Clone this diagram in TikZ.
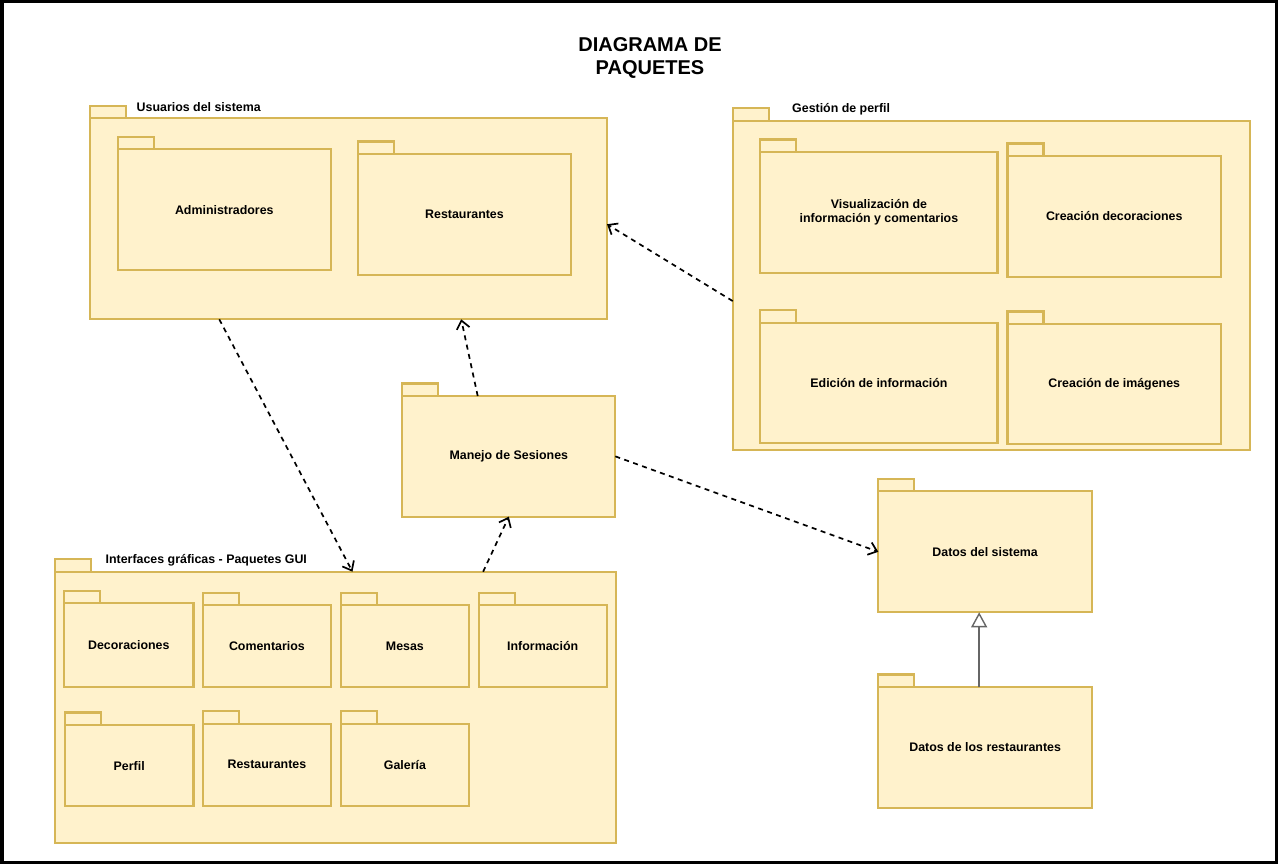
\documentclass[tikz,border=0pt]{standalone}
\usepackage{fontspec}
\setmainfont{Liberation Sans}
\usetikzlibrary{arrows.meta,calc}
\definecolor{pkgfill}{HTML}{FFF2CC}
\definecolor{pkgdraw}{HTML}{D6B656}
\definecolor{genline}{HTML}{666666}
\tikzset{
  pkgst/.style={draw=pkgdraw, fill=pkgfill, line width=2.1pt, inner sep=2pt, outer sep=0pt,
    align=center, font=\fontsize{12.4}{13.5}\selectfont\bfseries},
  tabst/.style={draw=pkgdraw, fill=pkgfill, line width=2.1pt},
  lblst/.style={anchor=west, inner sep=0pt, font=\fontsize{12.4}{13.5}\selectfont\bfseries},
  dep/.style={draw=black, line width=1.7pt, dash pattern=on 5pt off 4.5pt,
    -{Straight Barb[length=8pt,width=13pt]}},
  gen/.style={draw=genline, line width=1.4pt, -{Triangle[open,length=15pt,width=16pt]}},
  framest/.style={draw=black, line width=3.5pt},
  titlest/.style={align=center, inner sep=0pt, font=\fontsize{20}{23}\selectfont\bfseries}
}
% name, x1, y1, x2, y2, text
\newcommand\pkgbox[6]{%
  \node[pkgst, minimum width={(#4-#2)*1pt}, minimum height={(#5-#3)*1pt}] (#1)
    at ({(#2+#4)/2},{(#3+#5)/2}) {#6};
  \draw[tabst] (#1.north west) rectangle ++(36,-12.5);
}
\begin{document}
\begin{tikzpicture}[x=1pt,y=-1pt]
\useasboundingbox (0,0) rectangle (1280,866);
\draw[framest] (1.75,1.75) rectangle (1276.5,862.5);

\node[titlest] (title) at (650,58) {DIAGRAMA DE\\PAQUETES};

% containers
\pkgbox{usr}{90}{118.3}{607}{319.3}{}
\node[lblst] (usrl) at (136.5,107) {Usuarios del sistema};
\pkgbox{gp}{732.7}{120.7}{1249.6}{449.8}{}
\node[lblst] (gpl) at (792,109) {Gestión de perfil};
\pkgbox{gui}{55.3}{571.7}{616}{843.3}{}
\node[lblst] (guil) at (105.5,560) {Interfaces gráficas - Paquetes GUI};

% inner packages
\pkgbox{adm}{117.6}{149.3}{331}{270.3}{Administradores}
\pkgbox{resta}{357.6}{154}{571.4}{275}{Restaurantes}

\pkgbox{vis}{760.4}{152}{997.5}{272.7}{Visualización de\\información y comentarios}
\pkgbox{cdec}{1007.5}{156}{1221}{277}{Creación decoraciones}
\pkgbox{edi}{760.4}{322.7}{997.5}{442.7}{Edición de información}
\pkgbox{cimg}{1007.5}{324}{1221}{444.3}{Creación de imágenes}

\pkgbox{ses}{402.3}{396}{615.3}{516.7}{Manejo de Sesiones}
\pkgbox{dsys}{878.3}{491.3}{1092}{612.3}{Datos del sistema}
\pkgbox{dres}{878.3}{687}{1092}{807.7}{Datos de los restaurantes}

\pkgbox{dec}{64.1}{603.3}{193.5}{687}{Decoraciones}
\pkgbox{com}{202.6}{605.3}{331.2}{687}{Comentarios}
\pkgbox{mes}{340.8}{605.3}{469}{687}{Mesas}
\pkgbox{inf}{478.6}{605.3}{606.8}{687}{Información}
\pkgbox{per}{64.9}{725}{193.5}{806.3}{Perfil}
\pkgbox{restb}{202.6}{723.7}{331.2}{805.7}{Restaurantes}
\pkgbox{gal}{340.8}{723.7}{469}{805.7}{Galería}

% connectors
\draw[dep] ($(usr.south west)!0.25!(usr.south east)$) -- ($(gui.north west)!0.53!(gui.north east)$);
\draw[dep] ($(gui.north west)!0.763!(gui.north east)$) -- (ses.south);
\draw[dep] ($(ses.north west)!0.354!(ses.north east)$) -- ($(usr.south west)!0.718!(usr.south east)$);
\draw[dep] ($(gp.north west)!0.548!(gp.south west)$) -- ($(usr.north east)!0.527!(usr.south east)$);
\draw[dep] (ses.east) -- (dsys.west);
\draw[gen] ($(dres.north)+(-6,0)$) -- ($(dsys.south)+(-6,0)$);
\end{tikzpicture}
\end{document}
